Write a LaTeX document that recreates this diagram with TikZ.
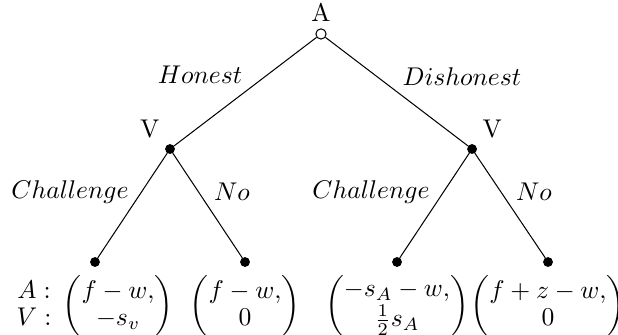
\documentclass[tikz,border=0pt]{standalone}
\usepackage{amsmath}
\usetikzlibrary{positioning}

\begin{document}
\begin{tikzpicture}[
      chance/.style={circle, draw, fill=white, inner sep=0pt, minimum size=4pt},
      decide/.style={circle, draw, fill=black, inner sep=0pt, minimum size=3.4pt},
      lbl/.style={font=\normalsize},
      pay/.style={inner sep=2pt}
    ]
      \renewcommand{\arraystretch}{0.9}
      \useasboundingbox (0,0) rectangle (8.477,-4.595);

      \node[chance, label={[label distance=-1pt]above:A}] (root) at (4.403, -0.466) {};
      \node[decide, label={[label distance=-1pt]above left:V}] (VL) at (2.332, -2.044) {};
      \node[decide, label={[label distance=-1pt]above right:V}] (VR) at (6.475, -2.044) {};

      \node[decide] (L1) at (1.303, -3.594) {};
      \node[decide] (L2) at (3.361, -3.594) {};
      \node[decide] (L3) at (5.446, -3.594) {};
      \node[decide] (L4) at (7.517, -3.594) {};

      \draw (root) -- (VL);
      \draw (root) -- (VR);
      \draw (VL) -- (L1);
      \draw (VL) -- (L2);
      \draw (VR) -- (L3);
      \draw (VR) -- (L4);

      \node[lbl] (hon) at (2.743, -1.029) {$Honest$};
      \node[lbl] (dis) at (6.337, -1.056) {$Dishonest$};
      \node[lbl] (chL) at (0.960, -2.634) {$Challenge$};
      \node[lbl] (noL) at (3.182, -2.634) {$No$};
      \node[lbl] (chR) at (5.089, -2.634) {$Challenge$};
      \node[lbl] (noR) at (7.325, -2.634) {$No$};

      \node[pay, below=1.2pt of L1] (p1) {$\begin{matrix}A:\\V:\end{matrix}\;\begin{pmatrix}f-w,\\-s_v\end{pmatrix}$};
      \node[pay, below=1.2pt of L2] (p2) {$\begin{pmatrix}f-w,\\0\end{pmatrix}$};
      \node[pay, below=1.2pt of L3] (p3) {$\begin{pmatrix}-s_A-w,\\\frac12 s_A\end{pmatrix}$};
      \node[pay, below=1.2pt of L4] (p4) {$\begin{pmatrix}f+z-w,\\0\end{pmatrix}$};
    \end{tikzpicture}
\end{document}
